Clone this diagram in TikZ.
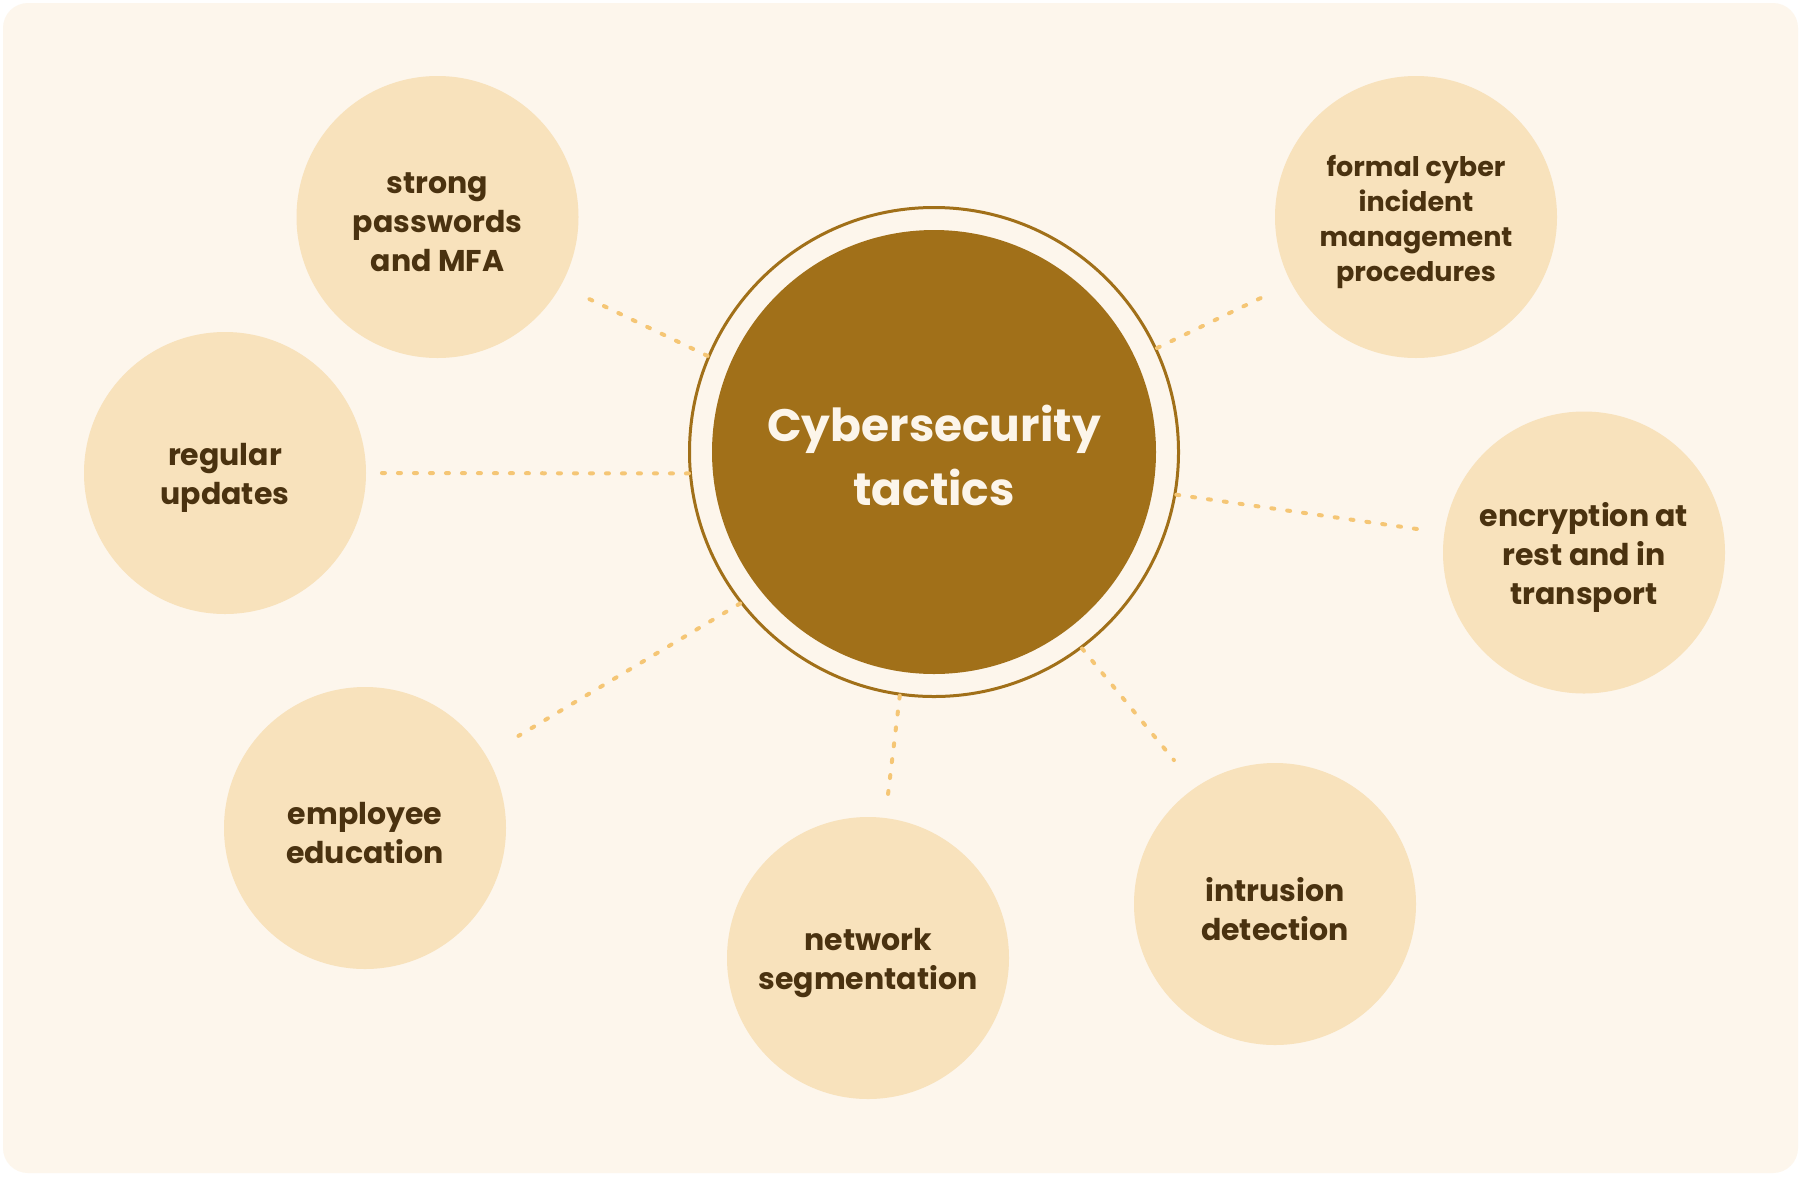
\documentclass[tikz,border=0pt]{standalone}
\usepackage{fontspec}
\setmainfont{Poppins}
\usetikzlibrary{positioning}

\definecolor{pagecream}{HTML}{FDF6EC}
\definecolor{tacticfill}{HTML}{F8E2BC}
\definecolor{hubbrown}{HTML}{A17019}
\definecolor{dotgold}{HTML}{F5C675}
\definecolor{inkbrown}{HTML}{4A3210}
\definecolor{hubtext}{HTML}{FCF5EA}

\begin{document}
\begin{tikzpicture}[
    x=1pt, y=-1pt,
    hub/.style={
        circle,
        fill=hubbrown,
        minimum size=444pt,
        inner sep=0pt,
    },
    hubcaption/.style={
        text=hubtext,
        align=center,
        yshift=-3pt,
        font=\fontsize{45.5}{64}\selectfont\bfseries,
    },
    ring/.style={
        circle,
        draw=hubbrown,
        line width=3pt,
        minimum size=489pt,
        inner sep=0pt,
    },
    tactic/.style={
        circle,
        fill=tacticfill,
        minimum size=282pt,
        inner sep=0pt,
        outer sep=0pt,
    },
    caption/.style={
        text=inkbrown,
        align=center,
        yshift=-5pt,
        font=\fontsize{30}{39}\selectfont\bfseries,
    },
    link/.style={
        draw=dotgold,
        line width=4pt,
        line cap=round,
        dash pattern=on 3pt off 13pt,
    }
]
    % Background
    \fill[white] (0,0) rectangle (1801,1176);
    \fill[pagecream, rounded corners=25pt] (3,3) rectangle (1798,1173);

    % Centre
    \node[ring] (ring) at (934,452) {};
    \node[hub, label={[hubcaption]center:{Cybersecurity\\tactics}}] (hub) at (934,452) {};

    % Tactics
    \node[tactic, label={[caption]center:{strong\\passwords\\and MFA}}] (passwords) at (437.5,217) {};
    \node[tactic, label={[caption]center:{regular\\updates}}] (updates) at (225,473) {};
    \node[tactic, label={[caption]center:{employee\\education}}] (education) at (365,828) {};
    \node[tactic, label={[caption]center:{network\\segmentation}}] (segmentation) at (868,958) {};
    \node[tactic, label={[caption]center:{intrusion\\detection}}] (intrusion) at (1275,904) {};
    \node[tactic, label={[caption]center:{encryption at\\rest and in\\transport}}] (encryption) at (1584,552.5) {};
    \node[tactic, label={[caption, font=\fontsize{27}{35}\selectfont\bfseries]center:{formal cyber\\incident\\management\\procedures}}] (incident) at (1416,217) {};

    % Links
    \draw[link, shorten >=26pt] (ring.157) -- (passwords.331);
    \draw[link, shorten >=14pt] (ring.185) -- (updates.0);
    \draw[link, shorten >=38pt] (ring.218) -- (education.31);
    \draw[link, shorten >=21pt] (ring.262) -- (segmentation.83);
    \draw[link, shorten >=35pt] (ring.307) -- (intrusion.124);
    \draw[link, shorten >=23pt] (ring.350) -- (encryption.172);
    \draw[link, shorten >=27pt] (ring.25) -- (incident.208);
\end{tikzpicture}
\end{document}
